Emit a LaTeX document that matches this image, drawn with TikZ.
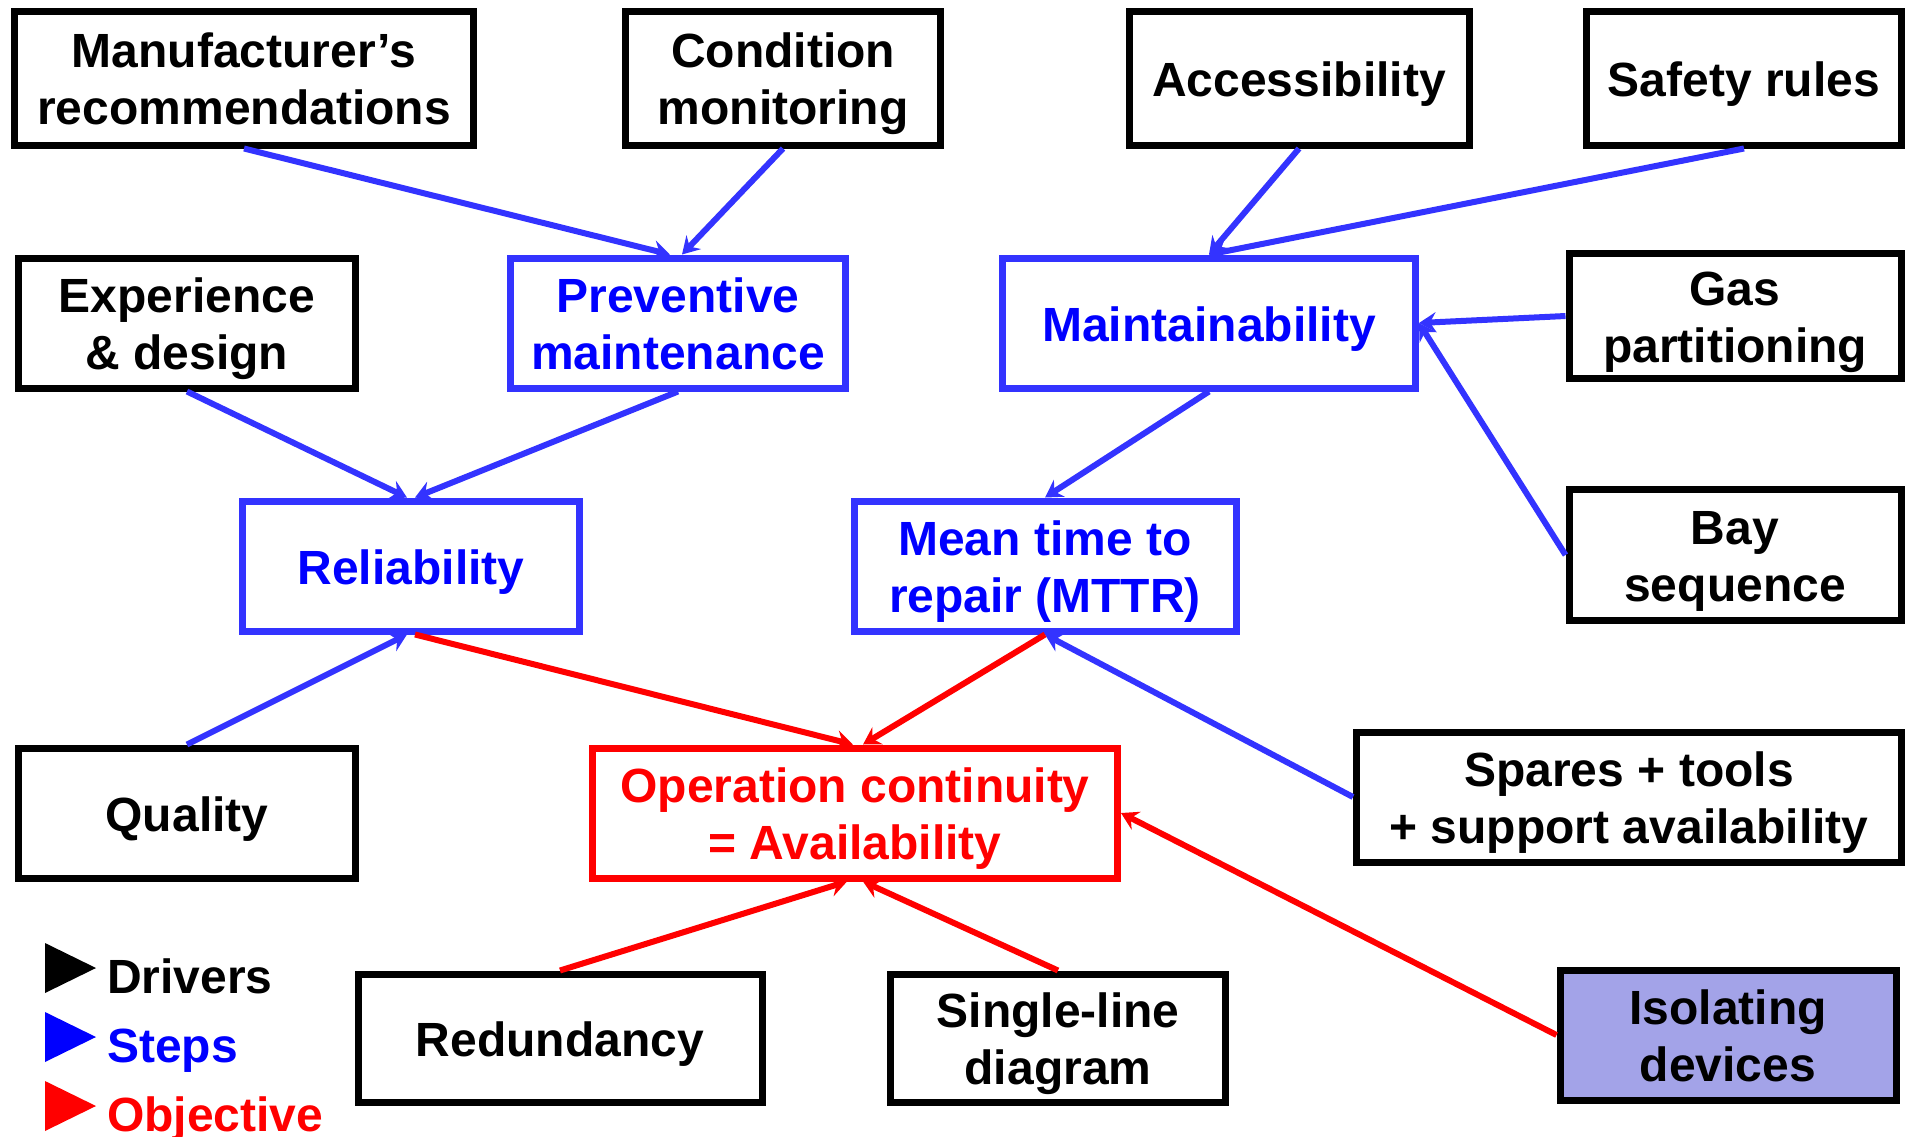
\documentclass[tikz,border=0pt]{standalone}
\usepackage{fontspec}
\setmainfont{Liberation Sans}
\usetikzlibrary{arrows.meta}
\definecolor{stepblue}{RGB}{51,51,255}
\definecolor{steptext}{RGB}{0,0,255}
\definecolor{isofill}{RGB}{163,163,232}
\tikzset{
  box/.style={draw, line width=7pt, inner sep=0pt, align=center,
    text height=46pt, text depth=10pt,
    font=\fontsize{48}{57}\selectfont\bfseries},
  two/.style={text height=103pt},
  driver/.style={box, draw=black, text=black},
  stepbox/.style={box, draw=stepblue, text=steptext},
  goal/.style={box, draw=red, text=red},
  blueline/.style={stepblue, line width=6pt, ->},
  redline/.style={red, line width=6pt, ->},
  legend/.style={anchor=base west, inner sep=0pt, font=\fontsize{48}{57}\selectfont\bfseries}
}

\begin{document}
\begin{tikzpicture}[x=1pt, y=-1pt, >={Stealth[length=17pt, width=20pt, inset=6pt]}]
\useasboundingbox (0,0) rectangle (1915,1136);

% drivers, top row
\node[driver, two, minimum width=459pt, minimum height=134pt] (manu) at (244,78) {Manufacturer’s\\recommendations};
\node[driver, two, minimum width=315pt, minimum height=134pt] (cond) at (783,78) {Condition\\monitoring};
\node[driver, minimum width=340pt, minimum height=134pt] (access) at (1299,78) {Accessibility};
\node[driver, minimum width=315pt, minimum height=134pt] (safety) at (1744,78) {Safety rules};

% second row
\node[driver, two, minimum width=337pt, minimum height=130pt] (exper) at (187,323) {Experience\\\& design};
\node[stepbox, two, minimum width=335pt, minimum height=130pt] (prev) at (678,323) {Preventive\\maintenance};
\node[stepbox, minimum width=413pt, minimum height=130pt] (maint) at (1209,323) {Maintainability};
\node[driver, two, minimum width=332pt, minimum height=125pt] (gas) at (1735,316) {Gas\\partitioning};

% third row
\node[stepbox, minimum width=337pt, minimum height=130pt] (rel) at (411,566) {Reliability};
\node[stepbox, two, minimum width=382pt, minimum height=130pt] (mttr) at (1045,566) {Mean time to\\repair (MTTR)};
\node[driver, two, minimum width=332pt, minimum height=131pt] (bay) at (1735,555) {Bay\\sequence};

% fourth row
\node[driver, minimum width=337pt, minimum height=130pt] (quality) at (187,813) {Quality};
\node[goal, two, minimum width=525pt, minimum height=130pt] (oper) at (855,813) {Operation continuity\\= Availability};
\node[driver, two, minimum width=545pt, minimum height=130pt] (spares) at (1629,797) {Spares + tools\\+ support availability};

% bottom row
\node[driver, minimum width=404pt, minimum height=128pt] (redund) at (560,1038) {Redundancy};
\node[driver, two, minimum width=335pt, minimum height=128pt] (single) at (1058,1038) {Single-line\\diagram};
\node[driver, two, fill=isofill, minimum width=336pt, minimum height=130pt] (iso) at (1728,1035) {Isolating\\devices};

% steps
\draw[blueline] (manu.south) -- ([xshift=-8pt]prev.north);
\draw[blueline] (cond.south) -- ([xshift=4pt]prev.north);
\draw[blueline] (access.south) -- (maint.north);
\draw[blueline] (safety.south) -- (maint.north);
\draw[blueline] (gas.west) -- (maint.east);
\draw[blueline] (bay.west) -- (maint.east);
\draw[blueline] (exper.south) -- ([xshift=-4pt]rel.north);
\draw[blueline] (prev.south) -- ([xshift=4pt]rel.north);
\draw[blueline] (maint.south) -- (mttr.north);
\draw[blueline] (quality.north) -- ([xshift=-4pt]rel.south);
\draw[blueline] (spares.west) -- (mttr.south);

% objective
\draw[redline] ([xshift=4pt]rel.south) -- ([xshift=-2pt]oper.north);
\draw[redline] (mttr.south) -- ([xshift=8pt]oper.north);
\draw[redline] (redund.north) -- ([xshift=-8pt]oper.south);
\draw[redline] (single.north) -- ([xshift=8pt]oper.south);
\draw[redline] (iso.west) -- (oper.east);

% legend
\fill (45,943) -- (96,968) -- (45,993) -- cycle;
\fill[steptext] (45,1012) -- (96,1037) -- (45,1062) -- cycle;
\fill[red] (45,1081) -- (96,1106) -- (45,1131) -- cycle;
\node[legend] (drv) at (107,993) {Drivers};
\node[legend, text=steptext] (stp) at (107,1062) {Steps};
\node[legend, text=red] (obj) at (107,1131) {Objective};
\end{tikzpicture}
\end{document}
